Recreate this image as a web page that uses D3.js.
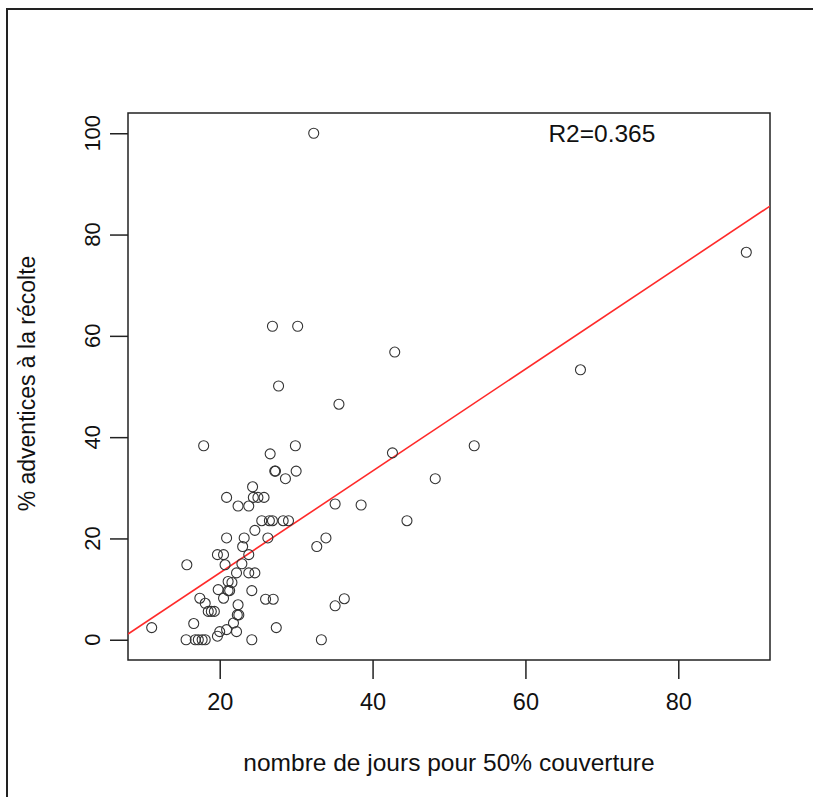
<!DOCTYPE html>
<html>
<head>
<meta charset="utf-8">
<script src="https://cdn.jsdelivr.net/npm/d3@7"></script>
<style>
  body { margin: 0; background: #fff; }
  text { font-family: "Liberation Sans", Arial, sans-serif; fill: #111; }
</style>
</head>
<body>
<script>
// days to 50% cover
var joursX = [
  32.3, 88.9, 67.2, 42.9, 35.6, 53.3, 42.6, 48.2, 38.5, 44.5,
  35.1, 33.9, 32.7, 36.3, 35.1, 33.3, 26.9, 30.2, 27.7, 17.9,
  29.9, 26.6, 27.2, 27.3, 30.0, 28.6, 15.7, 11.1, 27.4, 24.2,
  24.3, 24.4, 25.0, 20.9, 25.8, 22.4, 23.8, 25.5, 26.5, 26.9,
  28.3, 29.0, 24.6, 20.9, 23.2, 26.3, 23.0, 19.7, 20.5, 23.8,
  20.7, 22.9, 22.2, 23.8, 24.6, 21.6, 21.1, 21.3, 24.2, 26.0,
  27.0, 17.4, 20.5, 18.1, 18.5, 18.9, 19.3, 22.4, 22.3, 22.5,
  21.8, 16.6, 20.0, 20.9, 22.2, 19.7, 15.6, 16.8, 17.2, 17.7,
  18.1, 19.8, 21.1
];
// % weeds at harvest
var adventicesY = [
  100, 76.5, 53.3, 56.8, 46.5, 38.3, 36.9, 31.8, 26.6, 23.5,
  26.8, 20.1, 18.4, 8.1, 6.7, 0, 61.9, 61.9, 50.1, 38.3,
  38.3, 36.7, 33.3, 33.3, 33.3, 31.8, 14.8, 2.4, 2.4, 0,
  30.2, 28.1, 28.1, 28.1, 28.1, 26.4, 26.4, 23.5, 23.5, 23.5,
  23.5, 23.5, 21.6, 20.1, 20.1, 20.1, 18.4, 16.8, 16.8, 16.8,
  14.8, 15.0, 13.2, 13.2, 13.2, 11.3, 9.7, 9.7, 9.7, 8.0,
  8.0, 8.2, 8.2, 7.2, 5.6, 5.6, 5.6, 6.9, 4.9, 4.9,
  3.3, 3.2, 1.6, 2.0, 1.6, 0.7, 0, 0, 0, 0,
  0, 9.9, 11.5
];
var xTicks = [20, 40, 60, 80];
var yTicks = [0, 20, 40, 60, 80, 100];
var fitIntercept = -6.93, fitSlope = 1.006;
var r2Label = "R2=0.365";

var margin = { top: 113, right: 43, bottom: 137, left: 128 },
  width = 813 - margin.left - margin.right,
  height = 797 - margin.top - margin.bottom;

var svg = d3.select("body").append("svg")
  .attr("width", 813)
  .attr("height", 797);

// outer frame (only left/top visible)
svg.append("rect")
  .attr("x", 7).attr("y", 9)
  .attr("width", 1000).attr("height", 1000)
  .attr("fill", "none").attr("stroke", "#222").attr("stroke-width", 2);

var g = svg.append("g")
  .attr("transform", "translate(" + margin.left + "," + margin.top + ")");

var x = d3.scaleLinear().domain([8.0, 92.0]).range([0, width]);
var y = d3.scaleLinear().domain([-4, 104]).range([height, 0]);

g.append("clipPath").attr("id", "clip")
  .append("rect").attr("width", width).attr("height", height);

// x axis
var xAxis = g.append("g")
  .attr("transform", "translate(0," + height + ")")
  .call(d3.axisBottom(x).tickValues(xTicks).tickSize(19).tickPadding(14));
xAxis.select(".domain").remove();
xAxis.selectAll("line").attr("stroke", "#222").attr("stroke-width", 1.5);
xAxis.selectAll("text").attr("font-size", 23.5).attr("fill", "#111")
  .attr("font-family", "Liberation Sans, Arial, sans-serif");

// y axis
var yAxis = g.append("g")
  .call(d3.axisLeft(y).tickValues(yTicks).tickSize(18).tickFormat(""));
yAxis.select(".domain").remove();
yAxis.selectAll("line").attr("stroke", "#222").attr("stroke-width", 1.5);

g.selectAll(".ylab")
  .data(yTicks)
  .enter().append("text")
  .attr("class", "ylab")
  .attr("transform", function (d) { return "translate(-36," + y(d) + ") rotate(-90)"; })
  .attr("text-anchor", "middle")
  .attr("dy", "0.35em")
  .attr("font-size", 22)
  .text(function (d) { return d; });

// box
g.append("rect")
  .attr("width", width).attr("height", height)
  .attr("fill", "none").attr("stroke", "#222").attr("stroke-width", 1.5);

// regression line
g.append("line")
  .attr("clip-path", "url(#clip)")
  .attr("x1", x(8.0)).attr("y1", y(fitIntercept + fitSlope * 8.0))
  .attr("x2", x(92.0)).attr("y2", y(fitIntercept + fitSlope * 92.0))
  .attr("stroke", "#ff2a2a").attr("stroke-width", 1.6);

// points
g.selectAll("circle")
  .data(joursX)
  .enter().append("circle")
  .attr("cx", function (d) { return x(d); })
  .attr("cy", function (d, i) { return y(adventicesY[i]); })
  .attr("r", 5)
  .attr("fill", "none")
  .attr("stroke", "#333")
  .attr("stroke-width", 1.1);

// R2
g.append("text")
  .attr("x", x(70)).attr("y", y(100))
  .attr("text-anchor", "middle").attr("dy", "0.35em")
  .attr("font-size", 24.5)
  .text(r2Label);

// axis titles
svg.append("text")
  .attr("x", 449).attr("y", 771)
  .attr("text-anchor", "middle")
  .attr("font-size", 24.5)
  .text("nombre de jours pour 50% couverture");

svg.append("text")
  .attr("transform", "translate(27," + (margin.top + height / 2 - 3) + ") rotate(-90)")
  .attr("text-anchor", "middle")
  .attr("dy", "0.35em")
  .attr("font-size", 23)
  .text("% adventices à la récolte");
</script>
</body>
</html>
